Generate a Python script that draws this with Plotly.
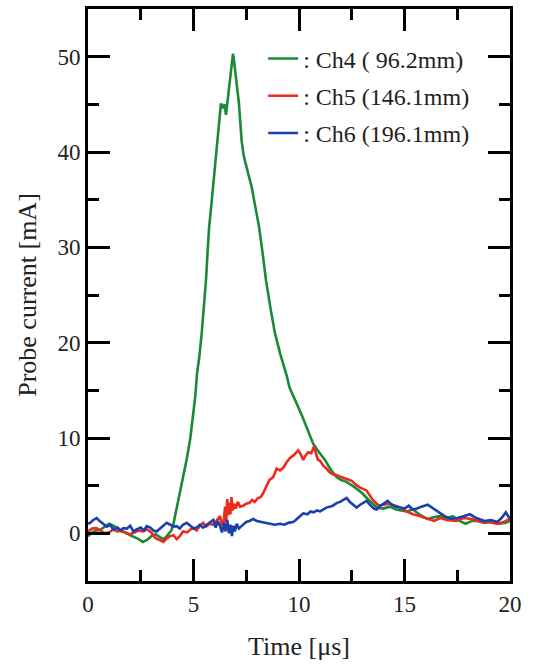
import plotly.graph_objects as go

# ---------------- data ----------------
ch4_t = [0, 0.2, 0.4, 0.6, 0.8, 1.0, 1.2, 1.4, 1.6, 1.8, 2.0, 2.2, 2.4, 2.6, 2.8, 3.0, 3.2, 3.4, 3.6, 3.8,
         3.95, 4.05, 4.2, 4.36, 4.5, 4.68, 4.85, 4.98, 5.08, 5.17, 5.28, 5.39, 5.5, 5.59, 5.67, 5.74, 5.84,
         5.94, 6.05, 6.15, 6.22, 6.3, 6.38, 6.46, 6.54, 6.62, 6.7, 6.78, 6.87, 6.93, 7.0, 7.08, 7.15, 7.22,
         7.28, 7.38, 7.5, 7.62, 7.75, 7.92, 8.11, 8.28, 8.44, 8.65, 8.86, 9.1, 9.3, 9.41, 9.55, 9.75, 9.95,
         10.13, 10.4, 10.67, 10.95, 11.23, 11.5, 11.78, 12.0, 12.25, 12.6, 13.0, 13.3, 13.7, 14.0, 14.3,
         14.6, 14.8, 15.1, 15.4, 15.7, 16.1, 16.4, 16.7, 17.0, 17.3, 17.6, 17.9, 18.2, 18.5, 18.8, 19.1,
         19.5, 19.8, 20.0]
ch4_v = [-0.3, 0.1, 0.3, 0.4, 0.7, 1.0, 0.8, 0.5, 0.2, 0.1, -0.2, -0.4, -0.6, -0.9, -0.7, -0.3, -0.1, -0.4,
         -0.6, -0.1, 0.3, 1.0, 2.6, 4.3, 5.8, 7.8, 10.0, 12.2, 14.3, 16.8, 18.6, 21.0, 23.8, 26.5, 29.6, 32.1,
         34.3, 36.7, 38.8, 41.2, 43.6, 45.1, 44.6, 45.0, 43.9, 45.6, 47.3, 48.6, 50.3, 49.4, 48.3, 46.5, 45.2,
         43.0, 41.2, 39.6, 38.4, 37.5, 36.4, 34.4, 32.1, 29.3, 26.5, 23.6, 21.0, 18.9, 17.5, 16.6, 15.3, 14.2,
         13.3, 12.4, 10.9, 9.4, 8.5, 7.7, 6.7, 5.9, 5.6, 5.4, 4.9, 4.2, 3.5, 2.7, 2.6, 2.8, 2.5, 2.4, 2.3,
         2.5, 2.0, 1.5, 1.7, 1.8, 1.6, 1.8, 1.3, 1.0, 1.3, 1.3, 1.1, 1.2, 1.0, 1.1, 1.3]

ch5_t = [0, 0.2, 0.4, 0.6, 0.8, 1.0, 1.2, 1.4, 1.6, 1.8, 2.0, 2.2, 2.4, 2.6, 2.8, 3.0, 3.2, 3.4, 3.57, 3.75,
         3.88, 4.05, 4.2, 4.35, 4.5, 4.7, 4.85, 5.0, 5.15, 5.3, 5.46, 5.6, 5.75, 5.94, 6.1, 6.26, 6.35, 6.42,
         6.5, 6.55, 6.6, 6.65, 6.7, 6.75, 6.8, 6.86, 6.92, 7.0, 7.1, 7.2, 7.36, 7.5, 7.65, 7.78, 7.9, 8.05,
         8.18, 8.3, 8.47, 8.6, 8.78, 8.94, 9.1, 9.26, 9.4, 9.57, 9.75, 9.96, 10.08, 10.2, 10.32, 10.44, 10.58,
         10.71, 10.8, 10.9, 11.0, 11.15, 11.3, 11.45, 11.6, 11.8, 12.0, 12.27, 12.5, 12.7, 12.9, 13.2, 13.5,
         13.68, 13.8, 14.0, 14.3, 14.55, 14.8, 15.1, 15.4, 15.75, 16.1, 16.4, 16.7, 17.0, 17.45, 17.8, 18.2,
         18.6, 19.0, 19.4, 19.7, 20.0]
ch5_v = [0.2, 0.5, 0.55, 0.3, 0.0, 0.1, 0.4, 0.2, 0.3, 0.0, -0.1, 0.1, 0.3, 0.2, 0.4, 0.1, -0.5, -0.7, -0.9,
         -0.5, -0.3, -0.2, -0.6, -0.3, 0.2, 0.1, 0.4, 0.55, 0.3, 0.8, 1.1, 0.7, 1.0, 0.9, 1.3, 1.8, 0.8, 1.1,
         2.8, 1.2, 3.6, 1.9, 3.2, 2.0, 3.8, 2.4, 3.1, 2.6, 3.3, 2.8, 2.9, 3.1, 3.2, 3.5, 3.3, 3.7, 3.8, 4.2,
         5.0, 5.6, 5.9, 6.8, 6.6, 6.9, 7.4, 7.9, 8.2, 8.7, 8.3, 7.7, 8.2, 8.5, 8.4, 9.1, 8.4, 7.7, 7.6, 7.1,
         6.8, 6.4, 6.2, 6.1, 5.9, 5.7, 5.5, 5.1, 4.8, 4.5, 3.5, 3.1, 2.9, 3.0, 3.1, 2.9, 2.7, 2.3, 2.0, 1.8,
         1.5, 1.3, 1.6, 1.4, 1.3, 1.6, 1.5, 1.2, 1.2, 1.0, 1.2, 1.5]

ch6_t = [0, 0.1, 0.25, 0.41, 0.55, 0.73, 0.9, 1.05, 1.2, 1.4, 1.55, 1.67, 1.85, 2.0, 2.15, 2.3, 2.5, 2.65,
         2.78, 2.95, 3.1, 3.25, 3.4, 3.55, 3.73, 3.9, 4.05, 4.2, 4.35, 4.5, 4.68, 4.85, 5.0, 5.15, 5.3, 5.45,
         5.62, 5.78, 5.94, 6.05, 6.15, 6.26, 6.35, 6.45, 6.52, 6.6, 6.68, 6.75, 6.82, 6.89, 6.96, 7.05, 7.15,
         7.25, 7.36, 7.5, 7.65, 7.83, 8.0, 8.2, 8.46, 8.65, 8.85, 9.1, 9.3, 9.5, 9.74, 9.9, 10.05, 10.2, 10.4,
         10.55, 10.7, 10.85, 11.0, 11.15, 11.3, 11.45, 11.6, 11.8, 11.95, 12.1, 12.26, 12.4, 12.55, 12.73,
         12.9, 13.05, 13.2, 13.4, 13.55, 13.68, 13.85, 14.0, 14.2, 14.4, 14.6, 14.8, 15.0, 15.2, 15.4, 15.6,
         15.8, 16.1, 16.3, 16.6, 16.9, 17.2, 17.5, 17.8, 18.1, 18.4, 18.8, 19.1, 19.4, 19.6, 19.8, 20.0]
ch6_v = [1.0, 1.1, 1.4, 1.6, 1.3, 1.0, 0.7, 0.9, 0.4, 0.6, 0.3, 0.55, 0.5, 0.8, 0.2, 0.4, 0.6, 0.3, 0.75,
         0.6, 0.3, 0.2, 0.5, 0.7, 1.1, 0.9, 0.7, 0.75, 0.5, 0.9, 1.1, 0.8, 0.5, 0.6, 0.9, 0.6, 0.9, 1.2, 1.4,
         0.6, 1.3, 0.75, 0.1, 1.1, 0.2, 1.4, 0.0, 0.9, -0.3, 0.8, 0.2, 1.0, 0.5, 0.7, 0.9, 1.2, 1.3, 1.5,
         1.3, 1.2, 1.1, 1.0, 0.9, 1.0, 0.9, 1.1, 1.2, 1.5, 1.8, 2.1, 2.0, 2.3, 2.2, 2.4, 2.3, 2.5, 2.7, 2.8,
         2.9, 3.2, 3.3, 3.5, 3.7, 3.3, 3.0, 2.7, 3.0, 3.2, 3.4, 2.9, 2.6, 2.5, 2.9, 3.1, 3.4, 3.0, 2.8, 2.7,
         2.6, 2.9, 2.5, 2.6, 2.8, 3.0, 2.7, 2.2, 1.8, 1.5, 1.6, 1.8, 2.0, 1.6, 1.3, 1.4, 1.2, 1.6, 2.2, 1.5]

series_names = [": Ch4 ( 96.2mm)", ": Ch5 (146.1mm)", ": Ch6 (196.1mm)"]
series_colors = ["#1b8a36", "#ec2a1d", "#1d3fae"]

x_title = "Time [μs]"
y_title = "Probe current [mA]"

FONT = "Liberation Serif, Times New Roman, serif"

fig = go.Figure()
for i, (t, v) in enumerate([(ch4_t, ch4_v), (ch5_t, ch5_v), (ch6_t, ch6_v)]):
    fig.add_trace(go.Scatter(
        x=t, y=v, mode="lines", name=series_names[i],
        legendgroup=str(i),
        line=dict(color=series_colors[i], width=2.6),
    ))

axis_common = dict(
    showgrid=False, zeroline=False,
    ticks="inside", ticklen=22, tickwidth=3, tickcolor="black",
    showline=True, linewidth=3, linecolor="black", mirror="ticks",
    tickfont=dict(family=FONT, size=23, color="#222"),
)

fig.update_layout(
    width=534, height=666,
    margin=dict(l=88, r=24, t=6, b=85),
    paper_bgcolor="white", plot_bgcolor="white",
    font=dict(family=FONT, color="#222"),
    showlegend=True,
    legend=dict(
        x=0.415, y=0.952, xanchor="left", yanchor="top",
        font=dict(family=FONT, size=24, color="#222"),
        bgcolor="rgba(0,0,0,0)", itemwidth=30, tracegroupgap=3,
    ),
    xaxis=dict(
        range=[0, 20], tick0=0, dtick=5,
        minor=dict(dtick=2.5, ticks="inside", ticklen=11, tickwidth=3, tickcolor="black"),
        title=dict(text=x_title, font=dict(family=FONT, size=26, color="#222"), standoff=22),
        **axis_common,
    ),
    yaxis=dict(
        range=[-5, 55], tick0=0, dtick=10,
        minor=dict(dtick=5, ticks="inside", ticklen=11, tickwidth=3, tickcolor="black"),
        title=dict(text=y_title, font=dict(family=FONT, size=26, color="#222"), standoff=14),
        **axis_common,
    ),
)

fig.write_html("out.html")
